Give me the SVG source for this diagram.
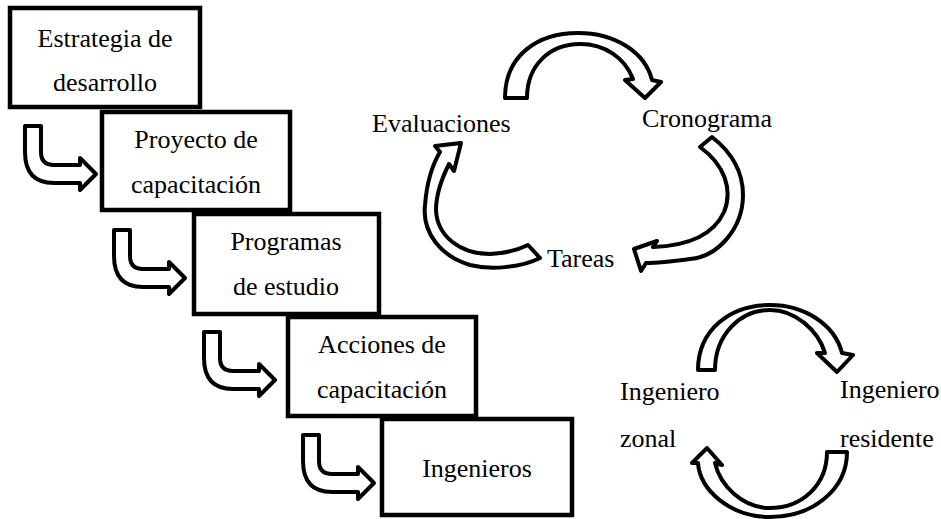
<svg xmlns="http://www.w3.org/2000/svg" xmlns:xlink="http://www.w3.org/1999/xlink" width="941" height="519" viewBox="0 0 941 519">
<style>
.box{fill:#fff;stroke:#000;stroke-width:4.5;stroke-linejoin:miter}
.blk{fill:#fff;stroke:#000;stroke-width:4;stroke-linejoin:round}
text{font-family:"Liberation Serif","Times New Roman",serif;font-size:26px;fill:#000}
.c{text-anchor:middle}
</style>
<defs>
<path id="bent" d="M25,126 L41,126 L41,152 Q41,165 54,165 L80,165 L80,158 L96,174 L80,190 L80,183 L54,183 Q25,183 25,152 Z"/>
</defs>
<rect width="941" height="519" fill="#fff"/>
<g id="box1"><rect class="box" x="10" y="8" width="190" height="99"/><text class="c" x="105" y="47">Estrategia de</text><text class="c" x="105" y="91">desarrollo</text></g>
<g id="box2"><rect class="box" x="102" y="112" width="188" height="98"/><text class="c" x="196" y="148">Proyecto de</text><text class="c" x="196" y="193">capacitación</text></g>
<g id="box3"><rect class="box" x="194" y="214" width="185" height="100"/><text class="c" x="286" y="250">Programas</text><text class="c" x="286" y="295">de estudio</text></g>
<g id="box4"><rect class="box" x="288" y="317" width="188" height="99"/><text class="c" x="382" y="353">Acciones de</text><text class="c" x="382" y="398">capacitación</text></g>
<g id="box5"><rect class="box" x="382" y="419" width="190" height="96"/><text class="c" x="477" y="477">Ingenieros</text></g>
<g id="cycle-labels">
<text x="372" y="132">Evaluaciones</text>
<text x="642" y="127">Cronograma</text>
<text x="547" y="267">Tareas</text>
<text x="620" y="400">Ingeniero</text>
<text x="620" y="447">zonal</text>
<text x="840" y="398">Ingeniero</text>
<text x="840" y="447">residente</text>
</g>
<g id="connectors">
<use href="#bent" class="blk"/>
<use href="#bent" class="blk" transform="translate(89,104)"/>
<use href="#bent" class="blk" transform="translate(179,206)"/>
<use href="#bent" class="blk" transform="translate(278,309)"/>
<path class="blk" d="M505,98 C505,55 538,33 578,33 C615,33 645,52 652,80 L661,82 L645,98 L625,80 L633,79 C625,58 605,44 580,44 C550,44 527,65 527,98 Z"/>
<path class="blk" d="M712,137 C735,155 743,175 743,195 C743,228 718,257 690,259 C675,261 660,263 646,263 L641,271 L634,249 L657,241 L653,247 C682,246 712,238 724,212 C733,190 725,165 700,147 Z"/>
<path class="blk" d="M540,258 C520,268 490,270 470,265 C440,256 422,232 425,205 C427,180 434,162 440,152 L435,146 L461,143 L454,171 L449,164 C442,178 436,195 436,210 C437,236 460,254 490,254 C510,253 520,249 528,245 Z"/>
<path class="blk" d="M698,370 C698,330 730,305 770,305 C805,305 835,325 842,353 L853,355 L837,372 L817,353 L825,353 C818,330 795,310 770,310 C740,310 715,335 715,370 Z"/>
<path class="blk" d="M847,452 C847,490 812,517 770,517 C730,517 700,490 698,463 L692,463 L707,448 L722,465 L715,463 C720,485 742,508 770,508 C802,508 827,485 827,452 Z"/>
</g>
</svg>
